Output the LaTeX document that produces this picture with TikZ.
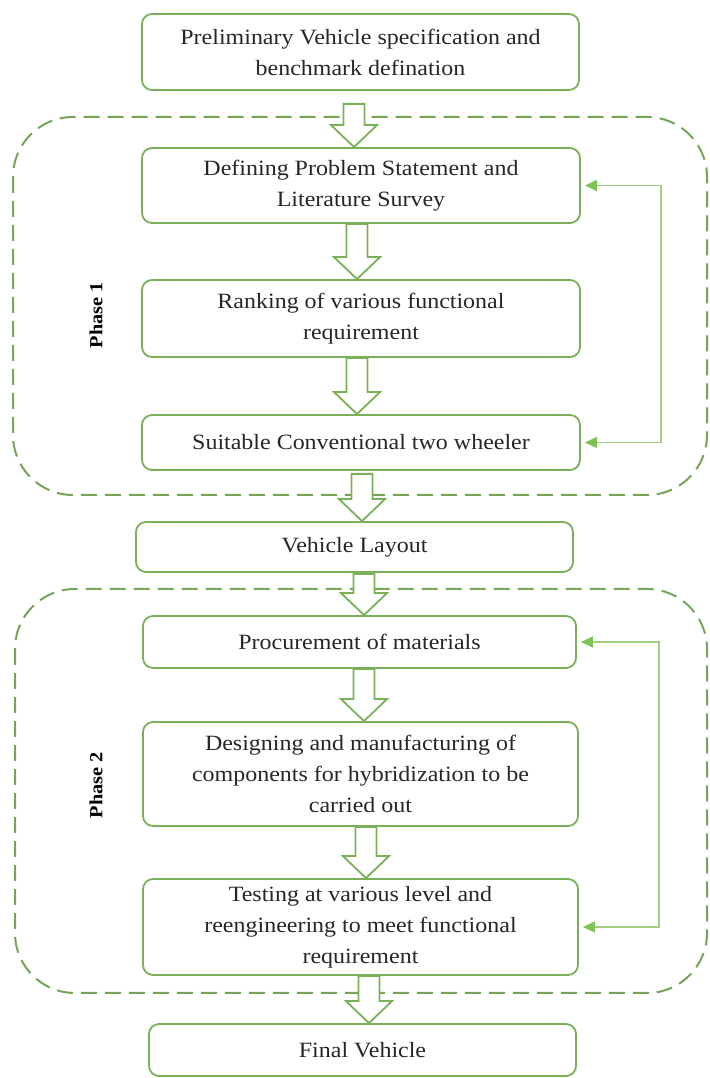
\documentclass[tikz,border=0pt]{standalone}
\usepackage{fontspec}
\setmainfont[FakeStretch=1.1]{Liberation Serif}
\usetikzlibrary{arrows.meta,calc}
\definecolor{boxgreen}{RGB}{122,176,88}
\definecolor{dashgreen}{RGB}{118,165,90}
\definecolor{fbgreen}{RGB}{160,205,130}
\definecolor{tipgreen}{RGB}{128,195,85}
\tikzset{
  stepbox/.style={draw=boxgreen, line width=1.8pt, rounded corners=10pt, inner sep=0pt,
    align=center, font=\fontsize{21.8}{31}\selectfont, text=black!85},
  phasebox/.style={draw=dashgreen, line width=2pt, dash pattern=on 16pt off 8pt, rounded corners=60pt},
  harrowstyle/.style={draw=boxgreen, line width=1.8pt, fill=white, line join=miter},
  fb/.style={draw=fbgreen, line width=1.3pt, {Triangle[length=12pt,width=11pt,color=tipgreen]}-{Triangle[length=12pt,width=11pt,color=tipgreen]}, shorten <=4pt, shorten >=4pt},
  phaselabel/.style={rotate=90, font=\bfseries\fontsize{18.5}{22}\selectfont}
}
\newcommand\hollowarrow[4]{% from, to, x center, top gap
  \draw[harrowstyle] let \p1=(#1.south), \p2=(#2.north) in
    (#3pt-10.5pt,\y1-#4pt) -- (#3pt+10.5pt,\y1-#4pt) -- (#3pt+10.5pt,\y2+22pt) -- (#3pt+23pt,\y2+22pt)
    -- (#3pt,\y2) -- (#3pt-23pt,\y2+22pt) -- (#3pt-10.5pt,\y2+22pt) -- cycle;}
\begin{document}
\begin{tikzpicture}[x=1pt,y=1pt]
\useasboundingbox (0,0) rectangle (709,1078);
% phase regions
\draw[phasebox] (13,1078-117) rectangle (707,1078-495);
\draw[phasebox] (15,1078-589) rectangle (707,1078-993);
% boxes
\node[stepbox, minimum width=437pt, minimum height=76pt] (b1) at (360.5,1078-52) {Preliminary Vehicle specification and\\benchmark defination};
\node[stepbox, minimum width=438pt, minimum height=75pt] (b2) at (361,1078-185.5) {Defining Problem Statement and\\Literature Survey};
\node[stepbox, minimum width=438pt, minimum height=77pt] (b3) at (361,1078-318.5) {Ranking of various functional\\requirement};
\node[stepbox, minimum width=438pt, minimum height=55pt] (b4) at (361,1078-442.5) {Suitable Conventional two wheeler};
\node[stepbox, minimum width=437pt, minimum height=50pt] (b5) at (354.5,1078-547) {Vehicle Layout};
\node[stepbox, minimum width=433pt, minimum height=52pt] (b6) at (359.5,1078-642) {Procurement of materials};
\node[stepbox, minimum width=435pt, minimum height=104pt] (b7) at (360.5,1078-774) {Designing and manufacturing of\\components for hybridization to be\\carried out};
\node[stepbox, minimum width=435pt, minimum height=96pt] (b8) at (360.5,1078-927) {Testing at various level and\\reengineering to meet functional\\requirement};
\node[stepbox, minimum width=427pt, minimum height=52pt] (b9) at (362.5,1078-1050) {Final Vehicle};
% phase labels
\node[phaselabel] (p1) at (96,1078-315) {Phase 1};
\node[phaselabel] (p2) at (96,1078-785) {Phase 2};
% hollow arrows
\hollowarrow{b1}{b2}{354}{13}
\hollowarrow{b2}{b3}{357}{0}
\hollowarrow{b3}{b4}{357}{0}
\hollowarrow{b4}{b5}{362}{3}
\hollowarrow{b5}{b6}{364}{1}
\hollowarrow{b6}{b7}{364}{0}
\hollowarrow{b7}{b8}{366}{0}
\hollowarrow{b8}{b9}{369}{0}
% feedback loops
\coordinate (f1) at (661,0);
\coordinate (f2) at (659,0);
\draw[fb] (b2.east) -- (b2.east -| f1) |- (b4.east);
\draw[fb] (b6.east) -- (b6.east -| f2) |- (b8.east);
\end{tikzpicture}
\end{document}
